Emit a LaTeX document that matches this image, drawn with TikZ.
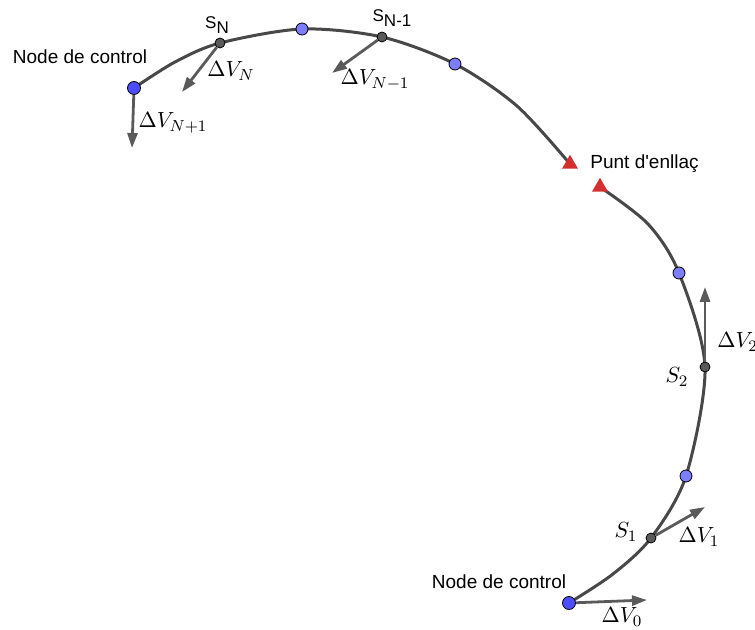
\documentclass[tikz,border=0pt]{standalone}
\usepackage{fontspec}
\newfontfamily\geofont{Liberation Sans}
\usetikzlibrary{arrows.meta, positioning, shapes.geometric, backgrounds}
\definecolor{trajgris}{RGB}{72,72,72}
\definecolor{ctrlblau}{RGB}{77,77,255}
\definecolor{puntblau}{RGB}{125,125,255}
\definecolor{impgris}{RGB}{90,90,90}
\definecolor{enllvermell}{RGB}{211,47,47}

\begin{document}
\begin{tikzpicture}[
                x=0.5pt, y=-0.5pt,
                traj/.style={line width=1.5pt, color=trajgris},
                dv/.style={-{Triangle[length=7.5pt, width=5pt]}, line width=1.4pt, color=trajgris!90},
                ctrl/.style={circle, draw=black, line width=0.4pt, fill=ctrlblau, minimum size=6.5pt, inner sep=0pt},
                punt/.style={circle, draw=black, line width=0.4pt, fill=puntblau, minimum size=6pt, inner sep=0pt},
                imp/.style={circle, draw=black, line width=0.4pt, fill=impgris, minimum size=5pt, inner sep=0pt},
                enll/.style={regular polygon, regular polygon sides=3, fill=enllvermell, minimum size=9.2pt, inner sep=0pt},
                etq/.style={font=\geofont\fontsize{9.5}{11}\selectfont, inner sep=0pt},
                etqs/.style={font=\geofont\fontsize{8.5}{10}\selectfont, inner sep=0pt},
                mat/.style={font=\fontsize{10.95}{12}\selectfont, inner sep=0pt}
            ]
                \useasboundingbox (0,0) rectangle (755,630);

                \node[ctrl] (ctrl0) at (569,603) {};
                \node[imp] (s1) at (651,538) {};
                \node[punt] (p1) at (686,476) {};
                \node[imp] (s2) at (705,367) {};
                \node[punt] (p2) at (679,273) {};
                \node[enll] (enll1) at (600,187) {};
                \node[enll] (enll2) at (570,164) {};
                \node[punt] (p3) at (455,64) {};
                \node[imp] (sn1) at (382,37) {};
                \node[punt] (p4) at (302,29) {};
                \node[imp] (sn) at (220,43) {};
                \node[ctrl] (ctrlN) at (134,88) {};

                % punts de pas de la trajectoria
                \coordinate (t1) at (613,574);
                \coordinate (t2) at (648,224);
                \coordinate (t3) at (517,106);
                \coordinate (t4) at (175,62);

                \begin{scope}[on background layer]
                    \draw[traj] plot[smooth] coordinates {(ctrl0) (t1) (s1) (p1) (s2) (p2) (t2) (enll1)};
                    \draw[traj] plot[smooth] coordinates {(enll2) (t3) (p3) (sn1) (p4) (sn) (t4) (ctrlN)};
                \end{scope}

                \coordinate (dv0) at (647,600);
                \coordinate (dv1) at (705,507);
                \coordinate (dv2) at (705,287);
                \coordinate (dvn1) at (332,73);
                \coordinate (dvn) at (182,92);
                \coordinate (dvnp) at (132,148);

                \draw[dv] (ctrl0) -- (dv0);
                \draw[dv] (s1) -- (dv1);
                \draw[dv] (s2) -- (dv2);
                \draw[dv] (sn1) -- (dvn1);
                \draw[dv] (sn) -- (dvn);
                \draw[dv] (ctrlN) -- (dvnp);

                \node[etq] (nc0) at (499,582) {Node de control};
                \node[etq] (ncN) at (80,57) {Node de control};
                \node[etq, anchor=west] (lenll) at (590,164) {Punt d\textquotesingle enllaç};
                \node[etqs] (lsn) at (217,25) {S\raisebox{-2.5pt}{N}};
                \node[etqs] (lsn1) at (392,18) {S\raisebox{-2.5pt}{N-1}};

                \node[mat] (ls1) at (626,532) {$S_1$};
                \node[mat] (ls2) at (677,377) {$S_2$};
                \node[mat] (ldv0) at (622,617) {$\Delta V_0$};
                \node[mat] (ldv1) at (699,537) {$\Delta V_1$};
                \node[mat, anchor=west] (ldv2) at (717,342) {$\Delta V_2$};
                \node[mat] (ldvn1) at (375,80) {$\Delta V_{N-1}$};
                \node[mat] (ldvn) at (231,71) {$\Delta V_N$};
                \node[mat] (ldvnp) at (173,123) {$\Delta V_{N+1}$};
            \end{tikzpicture}
\end{document}
